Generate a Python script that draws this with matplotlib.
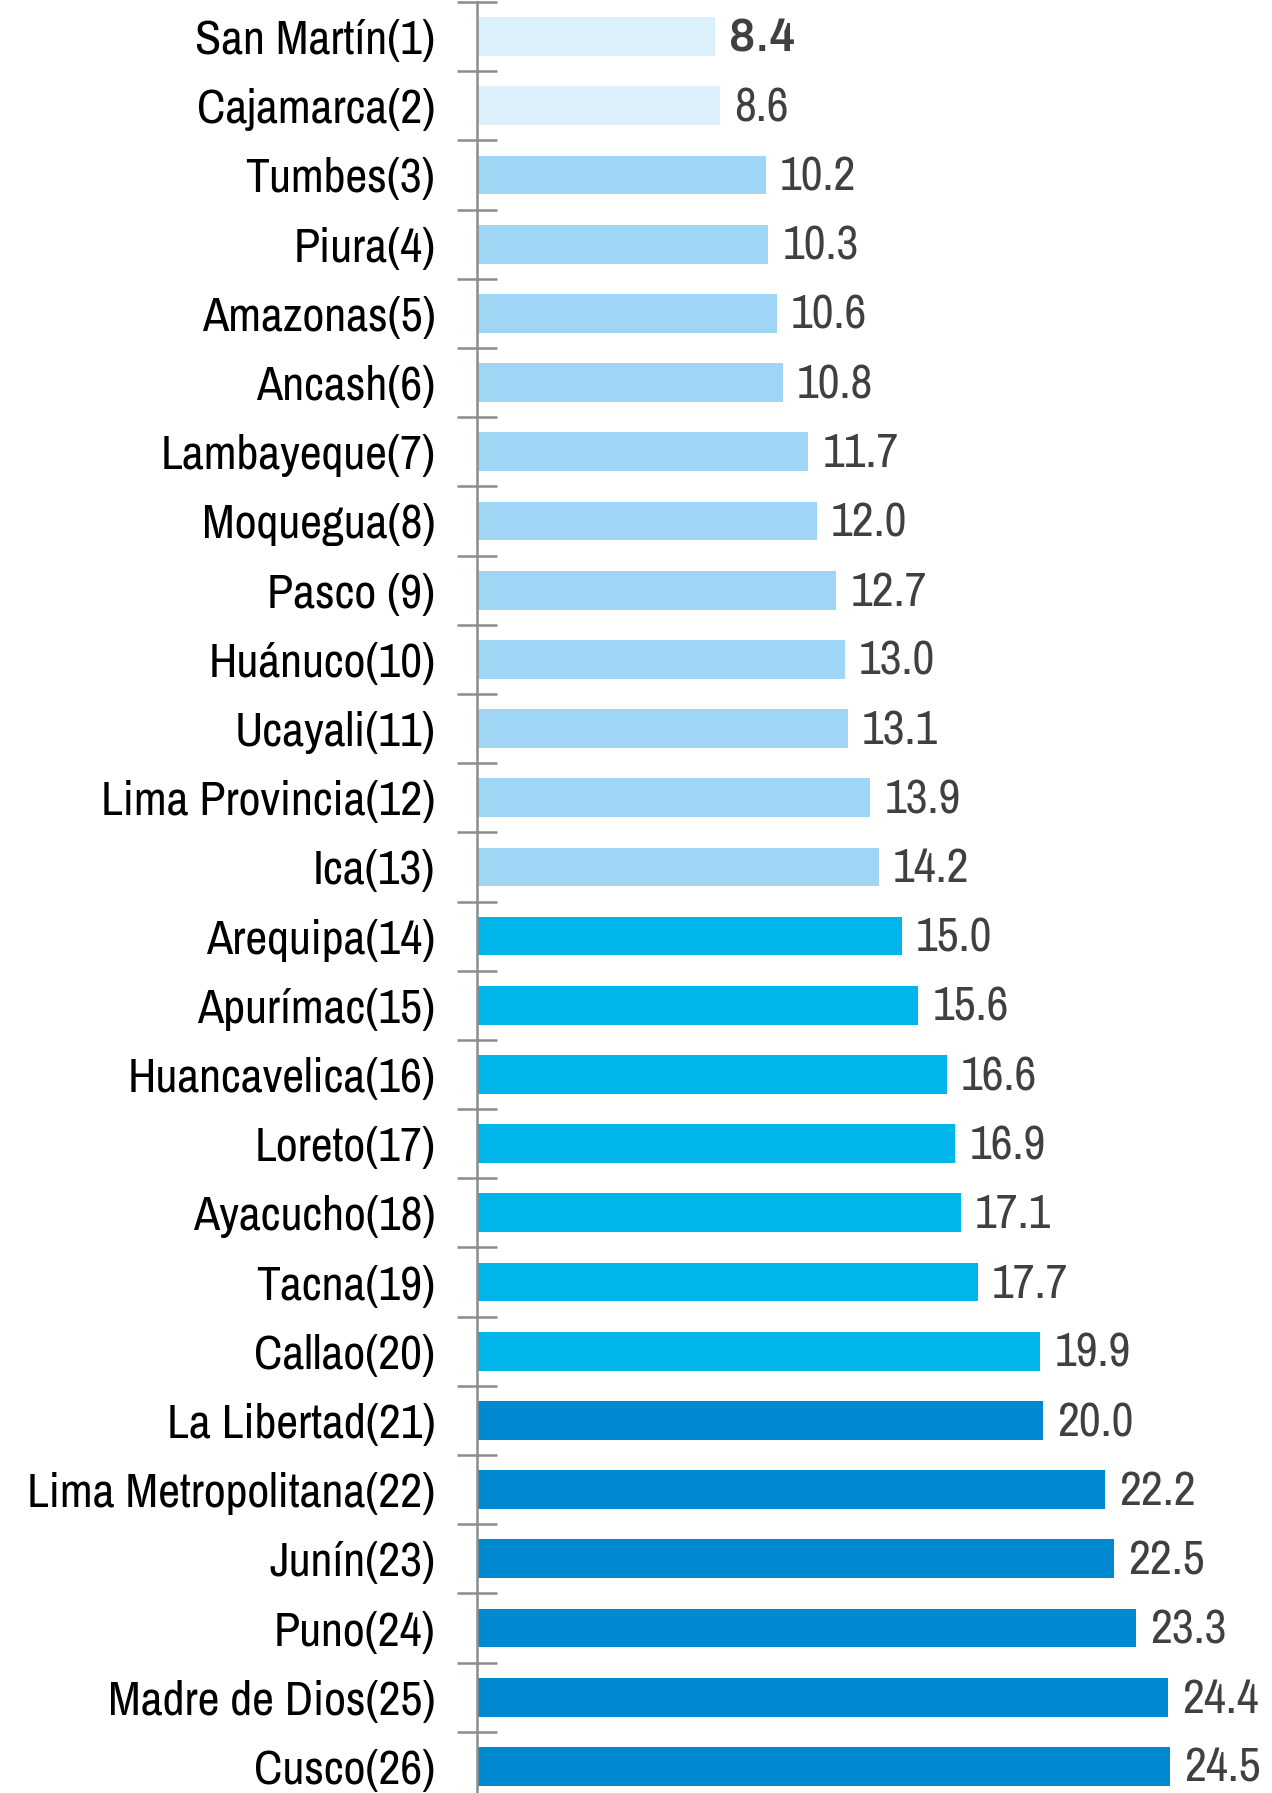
import matplotlib
matplotlib.use("Agg")
import matplotlib.pyplot as plt
import numpy as np

regiones = [
    "San Martín(1)", "Cajamarca(2)", "Tumbes(3)", "Piura(4)", "Amazonas(5)",
    "Ancash(6)", "Lambayeque(7)", "Moquegua(8)", "Pasco (9)", "Huánuco(10)",
    "Ucayali(11)", "Lima Provincia(12)", "Ica(13)", "Arequipa(14)",
    "Apurímac(15)", "Huancavelica(16)", "Loreto(17)", "Ayacucho(18)",
    "Tacna(19)", "Callao(20)", "La Libertad(21)", "Lima Metropolitana(22)",
    "Junín(23)", "Puno(24)", "Madre de Dios(25)", "Cusco(26)",
]
valores = [8.4, 8.6, 10.2, 10.3, 10.6, 10.8, 11.7, 12.0, 12.7, 13.0, 13.1,
           13.9, 14.2, 15.0, 15.6, 16.6, 16.9, 17.1, 17.7, 19.9, 20.0, 22.2,
           22.5, 23.3, 24.4, 24.5]
grupos = [0] * 2 + [1] * 11 + [2] * 7 + [3] * 6
colores_grupo = ["#DCF0FB", "#A0D6F5", "#00B5E9", "#0088D1"]

plt.rcParams['font.family'] = ['Archivo Narrow', 'Liberation Sans', 'DejaVu Sans']

fig = plt.figure(figsize=(12.72, 17.93), dpi=100)
W, H = 1272, 1793
x0 = 477
top_px, bot_px = 2, 1801
ax = fig.add_axes([x0 / W, (H - bot_px) / H, 1 - x0 / W, (bot_px - top_px) / H])

y = np.arange(len(regiones))
colores = [colores_grupo[g] for g in grupos]
ax.barh(y, valores, height=0.56, color=colores)

ax.set_xlim(0, (W - x0) / 28.3)
ax.set_ylim(len(regiones) - 0.5, -0.5)

ax.set_yticks(y)
ax.set_yticklabels(regiones, fontsize=34.5, color="black")
ax.tick_params(axis='y', which='major', length=0, pad=30)
ax.set_yticks(np.arange(-0.5, len(regiones), 1), minor=True)
ax.tick_params(axis='y', which='minor', length=29, width=1.8, direction='inout', color="#8C8C8C")
ax.set_xticks([])

for s in ["top", "right", "bottom"]:
    ax.spines[s].set_visible(False)
ax.spines["left"].set_color("#8C8C8C")
ax.spines["left"].set_linewidth(1.8)

for i, v in enumerate(valores):
    if i == 0:
        ax.text(v + 0.5, i + 0.03, f"{v:.1f}", va="center", ha="left", fontsize=33,
                color="#404040", fontweight="bold", family=['Archivo', 'DejaVu Sans'])
    else:
        ax.text(v + 0.5, i + 0.03, f"{v:.1f}", va="center", ha="left", fontsize=34.5,
                color="#404040")

fig.savefig("out.png", dpi=100)
